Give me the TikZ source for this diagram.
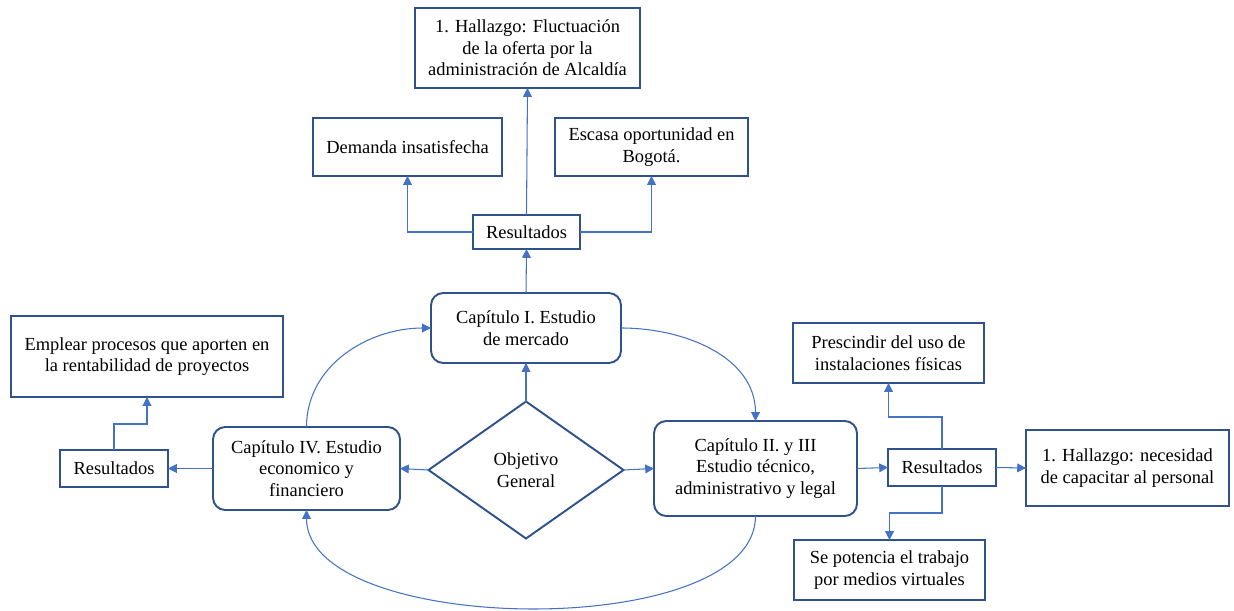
\documentclass[tikz,border=0pt]{standalone}
\usepackage{fontspec}
\setmainfont{Liberation Serif}
\usetikzlibrary{arrows.meta,shapes.geometric}
\definecolor{boxblue}{HTML}{2F528F}
\definecolor{arrblue}{HTML}{4472C4}
\tikzset{
  box/.style={draw=boxblue, line width=1.1pt, inner sep=0pt, outer sep=0pt, align=center,
    font=\fontsize{10.5pt}{12.2pt}\selectfont},
  rbox/.style={box, rounded corners=7pt},
  conn/.style={draw=arrblue, line width=0.6pt, -{Triangle[length=5pt,width=5pt]}},
}
\begin{document}
\begin{tikzpicture}[x=0.02cm,y=-0.02cm]
\useasboundingbox (0,0) rectangle (1234,611);
% boxes
\node[box, minimum width={225*0.02cm}, minimum height={80*0.02cm}] (h1) at (527.5,48) {1. Hallazgo: Fluctuación\\de la oferta por la\\administración de Alcaldía};
\node[box, minimum width={189*0.02cm}, minimum height={58*0.02cm}] (dem) at (407.5,147) {Demanda insatisfecha};
\node[box, minimum width={193*0.02cm}, minimum height={58*0.02cm}] (esc) at (651.5,147) {Escasa oportunidad en\\Bogotá.};
\node[box, minimum width={107*0.02cm}, minimum height={34*0.02cm}] (r1) at (526.5,232) {Resultados};
\node[rbox, minimum width={190*0.02cm}, minimum height={70*0.02cm}] (c1) at (526,328) {Capítulo I. Estudio\\de mercado};
\node[box, diamond, aspect=1.42, minimum width={195*0.02cm}, minimum height={137*0.02cm}] (obj) at (526,470) {Objetivo\\General};
\node[rbox, minimum width={187*0.02cm}, minimum height={83*0.02cm}] (c4) at (306.5,468.5) {Capítulo IV. Estudio\\economico y\\financiero};
\node[rbox, minimum width={203*0.02cm}, minimum height={95*0.02cm}] (c2) at (755.5,468.5) {Capítulo II. y III\\Estudio técnico,\\administrativo y legal};
\node[box, minimum width={272*0.02cm}, minimum height={81*0.02cm}] (emp) at (147,356.5) {Emplear procesos que aporten en\\la rentabilidad de proyectos};
\node[box, minimum width={108*0.02cm}, minimum height={37*0.02cm}] (r4) at (114,468.5) {Resultados};
\node[box, minimum width={191*0.02cm}, minimum height={60*0.02cm}] (pre) at (888.5,353) {Prescindir del uso de\\instalaciones físicas};
\node[box, minimum width={108*0.02cm}, minimum height={37*0.02cm}] (r2) at (942,467.5) {Resultados};
\node[box, minimum width={203*0.02cm}, minimum height={76*0.02cm}] (hal2) at (1127.5,468) {1. Hallazgo: necesidad\\de capacitar al personal};
\node[box, minimum width={191*0.02cm}, minimum height={60*0.02cm}] (sep) at (889.5,570) {Se potencia el trabajo\\por medios virtuales};
% helper coordinates
\coordinate (k4) at (147,424);
\coordinate (k2a) at (888.5,417);
\coordinate (k2b) at (889.5,513);
% connectors
\draw[conn] (c1.north) -- (r1.south);
\draw[conn] (r1.north) -- (h1.south);
\draw[conn] (r1.west) -| (dem.south);
\draw[conn] (r1.east) -| (esc.south);
\draw[conn] (obj.north) -- (c1.south);
\draw[conn] (obj.west) -- (c4.east);
\draw[conn] (obj.east) -- (c2.west);
\draw[conn] (c4.north) to[out=90,in=180] (c1.west);
\draw[conn] (c1.east) to[out=0,in=90] (c2.north);
\draw[conn] (c2.south) to[out=-90,in=-90,looseness=0.72] (c4.south);
\draw[conn] (c4.west) -- (r4.east);
\draw[conn] (r4.north) |- (k4) -- (emp.south);
\draw[conn] (c2.east) -- (r2.west);
\draw[conn] (r2.east) -- (hal2.west);
\draw[conn] (r2.north) |- (k2a) -- (pre.south);
\draw[conn] (r2.south) |- (k2b) -- (sep.north);
\end{tikzpicture}
\end{document}
